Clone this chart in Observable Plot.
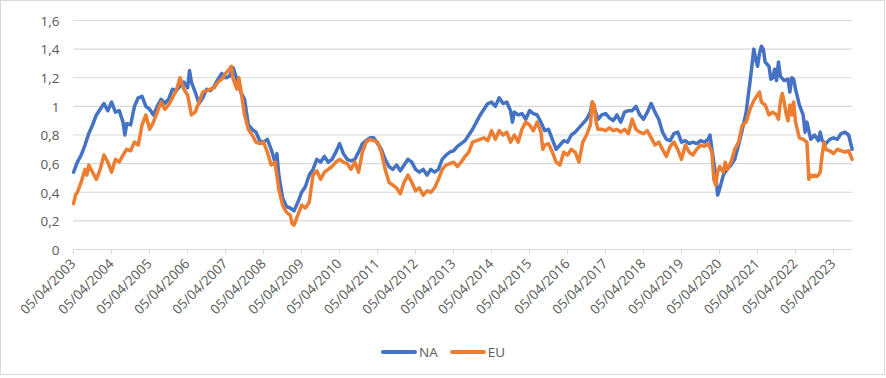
<!DOCTYPE html>
<html>
<head>
<meta charset="utf-8">
<script src="https://cdn.jsdelivr.net/npm/d3@7"></script>
<script src="https://cdn.jsdelivr.net/npm/@observablehq/plot@0.6"></script>
<style>
  html, body { margin: 0; padding: 0; background: #fff; }
  #wrap { position: relative; width: 886px; height: 378px; overflow: hidden; font-family: "Open Sans", sans-serif; }
  #border { position: absolute; left: 0; top: 0; width: 885px; height: 375px; box-sizing: border-box; border: 1px solid #d9d9d9; pointer-events: none; }
  #chart { position: absolute; left: 0; top: 0; }
  #legend { position: absolute; left: 0; top: 343px; width: 886px; display: flex; justify-content: center; align-items: center; font-size: 13.5px; color: #595959; }
  .item { display: flex; align-items: center; margin: 0 6px; }
  .swatch { width: 36px; height: 3.5px; border-radius: 2px; margin-right: 2px; }
</style>
</head>
<body>
<div id="wrap">
  <div id="chart"></div>
  <div id="legend"></div>
  <div id="border"></div>
</div>
<script>
// ---- data (decimal years) ----
const naYears = [2003.26,2003.36,2003.46,2003.56,2003.66,2003.76,2003.86,2003.96,2004.06,2004.16,2004.26,2004.36,2004.46,2004.56,2004.61,2004.66,2004.76,2004.86,2004.96,2005.06,2005.16,2005.26,2005.36,2005.46,2005.56,2005.66,2005.76,2005.86,2005.96,2006.06,2006.16,2006.26,2006.31,2006.36,2006.46,2006.56,2006.66,2006.76,2006.86,2006.96,2007.06,2007.16,2007.26,2007.36,2007.46,2007.56,2007.66,2007.76,2007.86,2007.96,2008.06,2008.16,2008.26,2008.36,2008.46,2008.56,2008.61,2008.66,2008.76,2008.86,2008.96,2009.06,2009.16,2009.26,2009.36,2009.46,2009.56,2009.66,2009.76,2009.86,2009.96,2010.06,2010.16,2010.26,2010.36,2010.46,2010.56,2010.66,2010.76,2010.86,2010.96,2011.06,2011.16,2011.26,2011.36,2011.46,2011.56,2011.66,2011.76,2011.86,2011.96,2012.06,2012.16,2012.26,2012.36,2012.46,2012.56,2012.66,2012.76,2012.86,2012.96,2013.06,2013.16,2013.26,2013.36,2013.46,2013.56,2013.66,2013.76,2013.86,2013.96,2014.06,2014.16,2014.26,2014.36,2014.46,2014.56,2014.66,2014.76,2014.81,2014.86,2014.96,2015.06,2015.16,2015.26,2015.36,2015.46,2015.56,2015.66,2015.76,2015.86,2015.96,2016.06,2016.16,2016.26,2016.36,2016.46,2016.56,2016.66,2016.76,2016.86,2016.91,2016.96,2017.06,2017.16,2017.26,2017.36,2017.46,2017.56,2017.66,2017.76,2017.86,2017.96,2018.06,2018.16,2018.26,2018.36,2018.46,2018.56,2018.66,2018.76,2018.86,2018.96,2019.06,2019.16,2019.26,2019.36,2019.46,2019.56,2019.66,2019.76,2019.86,2019.96,2020.01,2020.06,2020.16,2020.21,2020.26,2020.36,2020.46,2020.56,2020.66,2020.76,2020.86,2020.96,2021.06,2021.11,2021.16,2021.21,2021.26,2021.31,2021.36,2021.41,2021.46,2021.56,2021.61,2021.66,2021.71,2021.76,2021.81,2021.86,2021.96,2022.06,2022.11,2022.16,2022.21,2022.26,2022.36,2022.46,2022.51,2022.56,2022.66,2022.76,2022.86,2022.91,2022.96,2023.06,2023.16,2023.26,2023.36,2023.46,2023.56,2023.66,2023.75];
const naValues = [0.54,0.61,0.66,0.73,0.81,0.87,0.94,0.98,1.02,0.97,1.03,0.96,0.97,0.89,0.80,0.88,0.87,1.00,1.06,1.07,1.00,0.98,0.94,1.00,1.05,1.02,1.05,1.12,1.11,1.14,1.17,1.13,1.25,1.17,1.10,1.02,1.06,1.12,1.11,1.14,1.19,1.23,1.20,1.21,1.27,1.19,1.10,1.05,0.87,0.84,0.82,0.76,0.75,0.77,0.70,0.61,0.67,0.52,0.36,0.30,0.29,0.27,0.33,0.40,0.44,0.52,0.56,0.63,0.61,0.65,0.61,0.63,0.68,0.74,0.67,0.63,0.62,0.63,0.68,0.74,0.76,0.78,0.78,0.74,0.70,0.63,0.58,0.56,0.59,0.55,0.59,0.63,0.61,0.56,0.54,0.56,0.52,0.56,0.54,0.56,0.63,0.66,0.68,0.69,0.72,0.74,0.76,0.80,0.84,0.89,0.94,0.98,1.02,1.03,1.00,1.06,1.02,1.03,0.97,0.89,0.96,0.94,0.95,0.91,0.97,0.95,0.94,0.89,0.83,0.84,0.77,0.70,0.73,0.76,0.75,0.80,0.82,0.85,0.88,0.91,0.96,1.03,0.99,0.91,0.94,0.95,0.92,0.90,0.94,0.89,0.96,0.97,0.97,1.00,0.94,0.91,0.96,1.02,0.96,0.91,0.82,0.77,0.76,0.81,0.82,0.75,0.76,0.74,0.75,0.74,0.76,0.75,0.77,0.80,0.70,0.52,0.38,0.42,0.52,0.56,0.59,0.63,0.73,0.84,0.96,1.17,1.28,1.40,1.33,1.28,1.37,1.42,1.40,1.31,1.28,1.19,1.20,1.26,1.18,1.31,1.21,1.18,1.19,1.10,1.20,1.19,1.12,1.01,0.94,0.82,0.89,0.77,0.80,0.76,0.82,0.76,0.74,0.77,0.78,0.77,0.81,0.82,0.80,0.70];

const euYears = [2003.26,2003.31,2003.36,2003.46,2003.56,2003.61,2003.66,2003.76,2003.86,2003.96,2004.06,2004.16,2004.26,2004.36,2004.46,2004.56,2004.66,2004.76,2004.86,2004.96,2005.06,2005.16,2005.26,2005.36,2005.46,2005.56,2005.66,2005.76,2005.86,2005.96,2006.06,2006.16,2006.26,2006.36,2006.46,2006.56,2006.66,2006.76,2006.86,2006.96,2007.06,2007.16,2007.26,2007.36,2007.41,2007.46,2007.56,2007.61,2007.66,2007.76,2007.86,2007.96,2008.06,2008.16,2008.26,2008.36,2008.46,2008.56,2008.66,2008.76,2008.86,2008.96,2009.01,2009.06,2009.16,2009.26,2009.36,2009.46,2009.56,2009.66,2009.76,2009.86,2009.96,2010.06,2010.16,2010.26,2010.36,2010.46,2010.56,2010.66,2010.76,2010.86,2010.96,2011.06,2011.16,2011.26,2011.36,2011.46,2011.56,2011.66,2011.76,2011.86,2011.96,2012.06,2012.16,2012.26,2012.36,2012.46,2012.56,2012.66,2012.76,2012.86,2012.96,2013.06,2013.16,2013.26,2013.36,2013.46,2013.56,2013.66,2013.76,2013.86,2013.96,2014.06,2014.16,2014.26,2014.36,2014.46,2014.56,2014.66,2014.76,2014.86,2014.96,2015.06,2015.16,2015.26,2015.36,2015.46,2015.56,2015.61,2015.66,2015.76,2015.86,2015.96,2016.06,2016.16,2016.26,2016.36,2016.46,2016.56,2016.66,2016.76,2016.86,2016.91,2016.96,2017.01,2017.06,2017.16,2017.26,2017.36,2017.46,2017.56,2017.66,2017.76,2017.86,2017.96,2018.06,2018.16,2018.26,2018.36,2018.46,2018.56,2018.66,2018.76,2018.86,2018.96,2019.06,2019.16,2019.26,2019.36,2019.46,2019.56,2019.66,2019.76,2019.86,2019.96,2020.06,2020.11,2020.16,2020.21,2020.26,2020.36,2020.41,2020.46,2020.56,2020.66,2020.76,2020.86,2020.96,2021.06,2021.16,2021.26,2021.31,2021.36,2021.46,2021.56,2021.66,2021.76,2021.81,2021.86,2021.91,2021.96,2022.01,2022.06,2022.11,2022.16,2022.21,2022.26,2022.36,2022.46,2022.56,2022.61,2022.66,2022.71,2022.76,2022.81,2022.86,2022.91,2022.96,2023.01,2023.06,2023.16,2023.26,2023.36,2023.46,2023.56,2023.66,2023.75];
const euValues = [0.32,0.38,0.40,0.47,0.56,0.52,0.59,0.54,0.49,0.56,0.66,0.61,0.54,0.63,0.61,0.66,0.70,0.69,0.75,0.73,0.87,0.94,0.84,0.89,0.96,1.03,0.98,1.01,1.06,1.11,1.20,1.12,1.08,0.94,0.96,1.03,1.10,1.11,1.12,1.13,1.17,1.19,1.23,1.26,1.28,1.19,1.12,1.20,1.12,0.94,0.84,0.80,0.75,0.74,0.75,0.68,0.59,0.61,0.42,0.31,0.26,0.24,0.18,0.17,0.24,0.31,0.29,0.33,0.52,0.55,0.49,0.54,0.56,0.58,0.61,0.63,0.61,0.60,0.56,0.61,0.54,0.68,0.75,0.77,0.76,0.75,0.68,0.56,0.47,0.45,0.43,0.39,0.47,0.52,0.47,0.41,0.43,0.38,0.41,0.40,0.43,0.49,0.56,0.59,0.60,0.61,0.58,0.61,0.65,0.68,0.75,0.76,0.77,0.78,0.76,0.83,0.77,0.83,0.80,0.82,0.75,0.80,0.75,0.84,0.89,0.87,0.83,0.89,0.82,0.70,0.73,0.74,0.68,0.61,0.59,0.68,0.66,0.70,0.68,0.61,0.75,0.80,0.87,1.03,1.01,0.89,0.84,0.84,0.83,0.85,0.83,0.84,0.82,0.84,0.81,0.91,0.84,0.82,0.81,0.83,0.78,0.73,0.75,0.70,0.65,0.72,0.75,0.70,0.63,0.73,0.68,0.66,0.70,0.73,0.72,0.74,0.68,0.49,0.45,0.54,0.58,0.54,0.61,0.56,0.61,0.70,0.75,0.87,0.89,0.98,1.04,1.08,1.10,1.03,1.01,0.94,0.96,0.94,0.91,1.03,1.09,1.03,0.95,0.90,1.01,0.94,1.03,0.89,0.78,0.77,0.75,0.49,0.52,0.51,0.52,0.51,0.52,0.54,0.66,0.75,0.70,0.69,0.67,0.70,0.69,0.68,0.69,0.63];

const seriesNames = ["NA", "EU"];
const seriesColors = ["#4472C4", "#ED7D31"];
const yTicks = [0, 0.2, 0.4, 0.6, 0.8, 1, 1.2, 1.4, 1.6];
const tickYears = [2003,2004,2005,2006,2007,2008,2009,2010,2011,2012,2013,2014,2015,2016,2017,2018,2019,2020,2021,2022,2023];
const tickDay = { month: 3, day: 5 }; // 05/04 each year
const domainEndYear = 2023.76;

// ---- helpers ----
function toDate(y) {
  const yr = Math.floor(y);
  const a = Date.UTC(yr, 0, 1), b = Date.UTC(yr + 1, 0, 1);
  return new Date(a + (y - yr) * (b - a));
}
const naData = naYears.map((y, i) => ({ date: toDate(y), value: naValues[i], series: seriesNames[0] }));
const euData = euYears.map((y, i) => ({ date: toDate(y), value: euValues[i], series: seriesNames[1] }));
const xTicks = tickYears.map(y => new Date(Date.UTC(y, tickDay.month, tickDay.day)));
const fmtDate = d3.utcFormat("%d/%m/%Y");
const fmtY = d => String(+d.toFixed(1)).replace(".", ",");

const chart = Plot.plot({
  width: 886,
  height: 335,
  marginTop: 20,
  marginBottom: 86,
  marginLeft: 73,
  marginRight: 34,
  style: { fontFamily: "'Open Sans', sans-serif", fontSize: "13.5px", color: "#595959", background: "transparent" },
  x: { type: "utc", domain: [xTicks[0], toDate(domainEndYear)] },
  y: { domain: [0, 1.6] },
  marks: [
    Plot.gridY(yTicks, { stroke: "#d9d9d9", strokeOpacity: 1, strokeWidth: 1.2 }),
    Plot.axisY(yTicks, { tickSize: 0, tickPadding: 14, tickFormat: fmtY, label: null, dy: 1 }),
    Plot.axisX(xTicks, { tickSize: 5, tickPadding: 7, tickRotate: -45, tickFormat: fmtDate, stroke: "#d9d9d9", strokeOpacity: 1, label: null }),
    Plot.lineY(naData, { x: "date", y: "value", stroke: seriesColors[0], strokeWidth: 3.5, strokeLinejoin: "round" }),
    Plot.lineY(euData, { x: "date", y: "value", stroke: seriesColors[1], strokeWidth: 3.5, strokeLinejoin: "round" })
  ]
});
document.getElementById("chart").appendChild(chart);

const legend = document.getElementById("legend");
seriesNames.forEach((name, i) => {
  const item = document.createElement("div");
  item.className = "item";
  const sw = document.createElement("span");
  sw.className = "swatch";
  sw.style.background = seriesColors[i];
  const lab = document.createElement("span");
  lab.textContent = name;
  item.appendChild(sw);
  item.appendChild(lab);
  legend.appendChild(item);
});
</script>
</body>
</html>
